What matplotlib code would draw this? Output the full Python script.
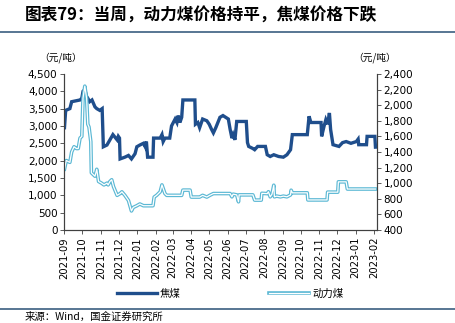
import numpy as np
import pandas as pd
import matplotlib
matplotlib.use("Agg")
import matplotlib.pyplot as plt
import matplotlib.dates as mdates
from matplotlib.lines import Line2D

plt.rcParams['font.family'] = ['DejaVu Sans', 'Noto Sans CJK SC']

# 焦煤 (left axis, 元/吨)
coke_dates = ["2021-09-01", "2021-09-03", "2021-09-10", "2021-09-13", "2021-09-27", "2021-09-30",
              "2021-10-02", "2021-10-05", "2021-10-08", "2021-10-10", "2021-10-13", "2021-10-17",
              "2021-10-22", "2021-10-25", "2021-10-30", "2021-11-03", "2021-11-05", "2021-11-11",
              "2021-11-16", "2021-11-21", "2021-11-28", "2021-11-30", "2021-12-02", "2021-12-03",
              "2021-12-11", "2021-12-17", "2021-12-22", "2021-12-28", "2021-12-31", "2022-01-05",
              "2022-01-11", "2022-01-14", "2022-01-16", "2022-01-18", "2022-01-27", "2022-01-28",
              "2022-02-08", "2022-02-11", "2022-02-13", "2022-02-16", "2022-02-24", "2022-02-27",
              "2022-03-05", "2022-03-08", "2022-03-10", "2022-03-13", "2022-03-16", "2022-03-18",
              "2022-04-07", "2022-04-08", "2022-04-12", "2022-04-15", "2022-04-20", "2022-04-27",
              "2022-05-01", "2022-05-05", "2022-05-08", "2022-05-12", "2022-05-19", "2022-05-24",
              "2022-06-02", "2022-06-05", "2022-06-08", "2022-06-10", "2022-06-13", "2022-06-16",
              "2022-07-02", "2022-07-04", "2022-07-06", "2022-07-13", "2022-07-16", "2022-07-21",
              "2022-08-03", "2022-08-06", "2022-08-11", "2022-08-17", "2022-08-25", "2022-09-02",
              "2022-09-08", "2022-09-14", "2022-09-17", "2022-10-12", "2022-10-15", "2022-10-18",
              "2022-11-04", "2022-11-05", "2022-11-09", "2022-11-12", "2022-11-15", "2022-11-18",
              "2022-11-20", "2022-11-24", "2022-12-04", "2022-12-10", "2022-12-16", "2022-12-24",
              "2023-01-02", "2023-01-05", "2023-01-06", "2023-01-19", "2023-01-20", "2023-02-02",
              "2023-02-03"]
coke_vals = [2950, 3450, 3500, 3700, 3750, 3800,
             4000, 4050, 3850, 3800, 3700, 3750,
             3550, 3500, 3450, 3500, 2400, 2450,
             2600, 2750, 2600, 2700, 2650, 2050,
             2100, 2150, 2050, 2200, 2400, 2450,
             2500, 2400, 2550, 2100, 2100, 2650,
             2650, 2750, 2550, 2650, 2650, 3000,
             3200, 3100, 3300, 3100, 3250, 3750,
             3750, 3050, 3100, 2950, 3200, 3150,
             3050, 2900, 2800, 2950, 3250, 3300,
             3200, 2900, 2650, 2750, 2600, 3130,
             3130, 2520, 2410, 2350, 2315, 2410,
             2410, 2170, 2120, 2170, 2120, 2100,
             2170, 2315, 2750, 2750, 3280, 3100,
             3100, 2700, 2990, 3180, 3050, 3375,
             2900, 2460, 2410, 2520, 2550, 2500,
             2550, 2620, 2460, 2460, 2700, 2700,
             2390]

# 动力煤 (right axis, 元/吨)
steam_dates = ["2021-09-01", "2021-09-04", "2021-09-10", "2021-09-13", "2021-09-17", "2021-09-21",
               "2021-09-24", "2021-09-27", "2021-09-30", "2021-10-02", "2021-10-05", "2021-10-08",
               "2021-10-10", "2021-10-12", "2021-10-15", "2021-10-16", "2021-10-22", "2021-10-25",
               "2021-10-28", "2021-11-02", "2021-11-06", "2021-11-11", "2021-11-13", "2021-11-16",
               "2021-11-19", "2021-11-22", "2021-11-28", "2021-12-03", "2021-12-06", "2021-12-11",
               "2021-12-17", "2021-12-22", "2021-12-25", "2021-12-31", "2022-01-05", "2022-01-11",
               "2022-01-27", "2022-01-29", "2022-02-02", "2022-02-08", "2022-02-11", "2022-02-13",
               "2022-02-16", "2022-02-19", "2022-03-16", "2022-03-18", "2022-03-30", "2022-04-01",
               "2022-04-15", "2022-04-20", "2022-04-27", "2022-05-02", "2022-05-08", "2022-06-05",
               "2022-06-08", "2022-06-10", "2022-06-16", "2022-06-19", "2022-06-20", "2022-07-13",
               "2022-07-16", "2022-07-27", "2022-07-28", "2022-08-06", "2022-08-08", "2022-08-11",
               "2022-08-14", "2022-08-17", "2022-08-18", "2022-08-22", "2022-08-28", "2022-09-02",
               "2022-09-08", "2022-09-14", "2022-09-15", "2022-09-17", "2022-10-12", "2022-10-13",
               "2022-11-14", "2022-11-15", "2022-12-02", "2022-12-03", "2022-12-16", "2022-12-18",
               "2023-02-03"]
steam_vals = [1180, 1290, 1267, 1400, 1467, 1444,
              1444, 1578, 1600, 2089, 2244, 2089,
              1756, 1720, 1533, 1133, 1089, 1178,
              1022, 1000, 978, 1000, 978, 1022,
              1044, 956, 844, 867, 889, 844,
              778, 644, 689, 711, 733, 711,
              711, 822, 844, 889, 978, 933,
              867, 844, 844, 911, 911, 822,
              822, 844, 822, 844, 867, 867,
              825, 859, 850, 761, 850, 850,
              783, 783, 870, 866, 890, 825,
              860, 974, 825, 834, 825, 834,
              825, 850, 910, 876, 876, 785,
              785, 885, 885, 1017, 1017, 925,
              925]

month_ticks = pd.date_range("2021-09-01", "2023-02-01", freq="MS")

dark = "#1f4e8c"
light = "#5bb8d4"
spine_c = "#404040"

fig = plt.figure(figsize=(4.56, 3.23), dpi=100)
ax = fig.add_axes([0.1414, 0.288, 0.6846, 0.483])
ax2 = ax.twinx()

cd = pd.to_datetime(coke_dates)
sd = pd.to_datetime(steam_dates)
ax.plot(cd, coke_vals, color=dark, lw=2.4, solid_joinstyle="miter", zorder=3)
ax2.plot(sd, steam_vals, color=light, lw=2.6, zorder=2)
ax2.plot(sd, steam_vals, color="white", lw=0.9, zorder=2)

ax.set_ylim(0, 4500)
ax.set_yticks(np.arange(0, 4501, 500))
ax.set_yticklabels([f"{v:,}" for v in range(0, 4501, 500)])
ax2.set_ylim(400, 2400)
ax2.set_yticks(np.arange(400, 2401, 200))
ax2.set_yticklabels([f"{v:,}" for v in range(400, 2401, 200)])

ax.set_xlim(pd.Timestamp("2021-09-01"), pd.Timestamp("2023-02-05"))
ax.set_xticks(month_ticks)
ax.xaxis.set_major_formatter(mdates.DateFormatter("%Y-%m"))
for lab in ax.get_xticklabels():
    lab.set_rotation(90)

for a in (ax, ax2):
    a.spines["top"].set_visible(False)
    for s in ("left", "right", "bottom"):
        a.spines[s].set_color(spine_c)
        a.spines[s].set_linewidth(0.8)
    a.tick_params(axis="both", labelsize=7.5, length=3, width=0.6, colors=spine_c, labelcolor="black", pad=2)
ax.tick_params(axis="x", labelsize=7.2)

fig.text(0.055, 0.952, "图表79：当周，动力煤价格持平，焦煤价格下跌", fontsize=12, fontweight="bold",
         family=["Noto Sans CJK SC"], va="center", ha="left")
fig.add_artist(Line2D([0.0, 1.0], [0.9, 0.9], color="#4a6b8a", lw=1.3))
fig.add_artist(Line2D([0.0, 1.0], [0.043, 0.043], color="#4a6b8a", lw=1.3))
fig.text(0.085, 0.822, "（元/吨）", fontsize=7, family=["Noto Sans CJK SC"], va="center", ha="left")
fig.text(0.775, 0.822, "（元/吨）", fontsize=7, family=["Noto Sans CJK SC"], va="center", ha="left")
fig.text(0.055, 0.018, "来源：Wind，国金证券研究所", fontsize=7.5, family=["Noto Sans CJK SC"], va="center", ha="left")

h1 = Line2D([], [], color=dark, lw=2.4)
h2 = Line2D([], [], color=light, lw=2.6)
h3 = Line2D([], [], color="white", lw=0.9)
leg = fig.legend([h1, (h2, h3)], ["焦煤", "动力煤"], loc="center", bbox_to_anchor=(0.505, 0.09),
                 ncol=2, frameon=False, handlelength=3.8, columnspacing=8.5, handletextpad=0.3,
                 prop={"family": "Noto Sans CJK SC", "size": 7.5})

fig.savefig("out.png", dpi=100)
